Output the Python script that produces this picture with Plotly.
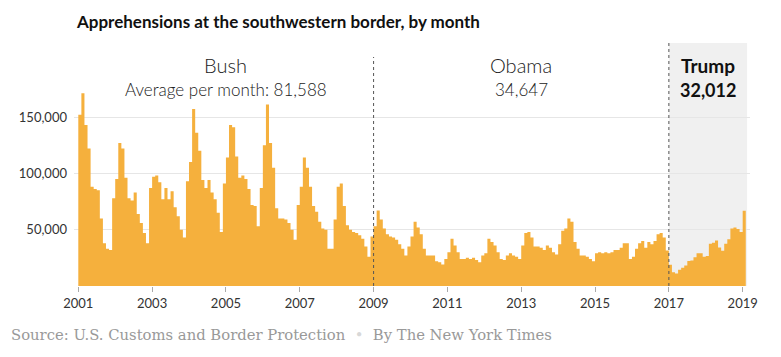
import plotly.graph_objects as go

# ---- data (monthly apprehensions at the southwestern border) ----
# Bush: Feb 2001 - Jan 2009
bush_values = [
    152000, 171000, 143000, 122000, 88000, 86000, 85000, 60000, 38000, 33000, 32000, 78000,
    95000, 127000, 122000, 96000, 78000, 76000, 83000, 64000, 56000, 47000, 38000, 87000,
    97000, 98000, 92000, 77000, 87000, 77000, 84000, 70000, 62000, 50000, 43000, 93000,
    110000, 157000, 136000, 120000, 94000, 87000, 94000, 83000, 77000, 65000, 48000, 91000,
    114000, 143000, 141000, 115000, 96000, 98000, 95000, 86000, 72000, 71000, 53000, 87000,
    125000, 161000, 127000, 105000, 69000, 60000, 60000, 59000, 56000, 50000, 41000, 72000,
    88000, 114000, 105000, 88000, 71000, 66000, 57000, 51000, 50000, 33000, 33000, 59000,
    88000, 91000, 71000, 54000, 50000, 48000, 47000, 45000, 42000, 35000, 26000, 44000,
]
# Obama: Feb 2009 - Jan 2017
obama_values = [
    53000, 67000, 59000, 51000, 46000, 44000, 43000, 41000, 37000, 33000, 27000, 35000,
    44000, 57000, 52000, 46000, 33000, 27000, 27000, 27000, 22000, 21000, 19000, 24000,
    30000, 42000, 36000, 30000, 24000, 24000, 25000, 24000, 25000, 23000, 21000, 27000,
    29000, 42000, 39000, 36000, 30000, 24000, 23000, 27000, 29000, 27000, 26000, 24000,
    36000, 47000, 48000, 43000, 35000, 35000, 34000, 32000, 36000, 34000, 30000, 28000,
    37000, 49000, 51000, 60000, 57000, 39000, 33000, 27000, 27000, 26000, 24000, 22000,
    29000, 30000, 29000, 30000, 29000, 30000, 32000, 32000, 34000, 38000, 38000, 24000,
    26000, 33000, 38000, 40000, 34000, 39000, 37000, 40000, 46000, 47000, 43000, 31600,
]
# Trump: Feb 2017 - Feb 2019
trump_values = [
    18800, 12200, 11100, 14500, 16100, 18200, 22300, 22600, 25500, 29100, 29000, 26000,
    26700, 37400, 38300, 40300, 34100, 31300, 37500, 41500, 51000, 51900, 50700, 48000,
    66900,
]
first_year, first_month = 2001, 2          # first month of the series
tick_years = list(range(2001, 2020, 2))
tick_labels = [str(y) for y in tick_years]
y_ticks = [50000, 100000, 150000]
y_tick_labels = ["50,000", "100,000", "150,000"]
presidents = ["Bush", "Obama", "Trump"]
averages = ["Average per month: 81,588", "34,647", "32,012"]

values = bush_values + obama_values + trump_values
# NYT convention: each month's bar spans the month before the reported month,
# i.e. it ends at the start of that month. Left edges of each monthly bar:
left_edges = []
for i in range(len(values)):
    m = first_month - 1 + i
    y = first_year + m // 12
    mo = m % 12 + 1
    left_edges.append(y + (mo - 2) / 12)
step_x = left_edges + [left_edges[-1] + 1 / 12]
step_y = values + [values[-1]]

BAR = "#F5B03D"
FONT = "Lato"

# pixel geometry helpers
W, H = 781, 357
ml, mr, mt, mb = 74, 31, 43, 71
px_per_year = 36.91
x0 = 2001 - (78.3 - ml) / px_per_year
x1 = x0 + (W - ml - mr) / px_per_year
plot_h = H - mt - mb
ymax = plot_h / 56.33 * 50000


def py(pix):  # pixel y -> paper y
    return (H - mb - pix) / plot_h


def pxx(pix):  # pixel x -> paper x
    return (pix - ml) / (W - ml - mr)


fig = go.Figure()
fig.add_trace(go.Scatter(
    x=step_x, y=step_y, mode="lines", line=dict(shape="hv", width=0, color=BAR),
    fill="tozeroy", fillcolor=BAR,
    hoverinfo="skip", showlegend=False,
))

shapes = [
    dict(type="rect", xref="x", yref="paper", x0=2017, x1=2019.12, y0=0, y1=1,
         fillcolor="#F0F0F0", line=dict(width=0), layer="below"),
    dict(type="line", xref="x", yref="paper", x0=2009, x1=2009, y0=0, y1=py(57),
         line=dict(color="#555", width=1, dash="dot")),
    dict(type="line", xref="x", yref="paper", x0=2017, x1=2017, y0=0, y1=1,
         line=dict(color="#555", width=1, dash="dot")),
]

annotations = []
centers = [(2001 + 2009) / 2, (2009 + 2017) / 2, (2017 + 2019.12) / 2]
for name, avg, cx in zip(presidents, averages, centers):
    if name == "Trump":
        t1, t2 = f"<b>{name}</b>", f"<b>{avg}</b>"
        f1 = dict(family=FONT, size=19, color="#111")
        f2 = dict(family=FONT, size=18, color="#111")
    else:
        t1, t2 = name, avg
        f1 = dict(family=FONT, size=20, color="#222", weight=300)
        f2 = dict(family=FONT, size=17, color="#222", weight=300)
    annotations.append(dict(x=cx, y=py(65), xref="x", yref="paper", text=t1,
                            showarrow=False, font=f1, xanchor="center", yanchor="middle"))
    annotations.append(dict(x=cx, y=py(89.5), xref="x", yref="paper", text=t2,
                            showarrow=False, font=f2, xanchor="center", yanchor="middle"))

annotations.append(dict(
    x=pxx(9), y=py(334), xref="paper", yref="paper", xanchor="left", yanchor="middle",
    showarrow=False,
    text='Source: U.S. Customs and Border Protection &nbsp;<span style="color:#d8d8d8">•</span>&nbsp; By The New York Times',
    font=dict(family="DejaVu Serif", size=14.8, color="#999"),
))

fig.update_layout(
    width=W, height=H,
    margin=dict(l=ml, r=mr, t=mt, b=mb, autoexpand=False),
    paper_bgcolor="white", plot_bgcolor="white",
    title=dict(text="<b>Apprehensions at the southwestern border, by month</b>",
               x=77 / W, xanchor="left", xref="container",
               y=1 - 22 / H, yanchor="middle", yref="container",
               font=dict(family=FONT, size=17, color="#111")),
    xaxis=dict(range=[x0, x1], tickvals=tick_years, ticktext=tick_labels,
               showgrid=False, zeroline=False, showline=False, automargin=False,
               ticks="outside", ticklen=5, tickcolor="#aaa", tickwidth=1,
               tickfont=dict(family=FONT, size=13, color="#333")),
    yaxis=dict(range=[0, ymax], tickvals=y_ticks, ticktext=y_tick_labels,
               showgrid=True, gridcolor="#e6e6e6", gridwidth=1, zeroline=False,
               showline=False, ticks="", ticklabelstandoff=6, automargin=False,
               tickfont=dict(family=FONT, size=13, color="#333")),
    shapes=shapes, annotations=annotations,
)

fig.write_html("out.html", config={"displayModeBar": False},
               post_script="document.body.style.margin='0';document.body.style.padding='0';")
